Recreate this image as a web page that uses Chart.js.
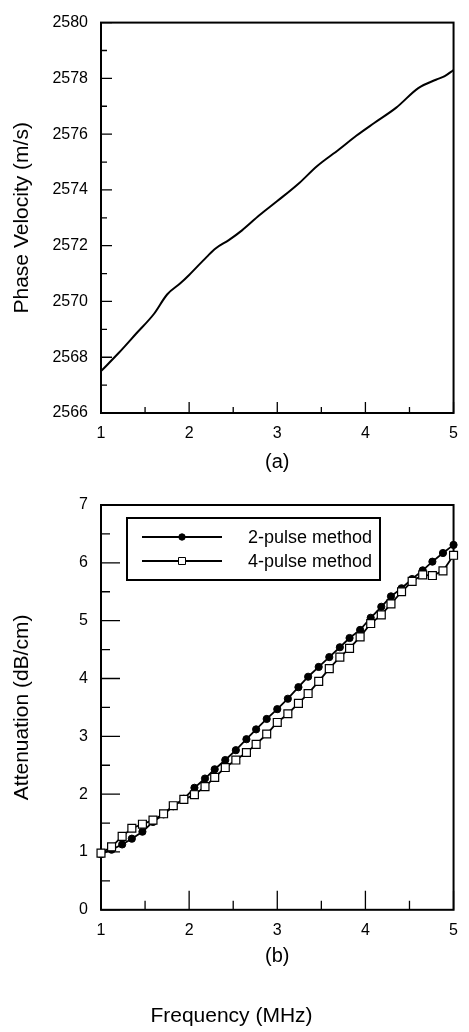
<!DOCTYPE html>
<html><head><meta charset="utf-8">
<script src="https://cdn.jsdelivr.net/npm/chart.js@4/dist/chart.umd.min.js"></script>
<style>
html,body{margin:0;padding:0;background:#fff;width:469px;height:1032px;overflow:hidden;}
#wa{position:absolute;left:0;top:0;width:469px;height:480px;}
#wb{position:absolute;left:0;top:480px;width:469px;height:552px;}
</style></head><body>
<div id="wa"><canvas id="ca"></canvas></div>
<div id="wb"><canvas id="cb"></canvas></div>
<script>
// ---- data (a): phase velocity ----
const freqA = [1.00, 1.20, 1.40, 1.60, 1.75, 1.90, 2.00, 2.20, 2.30, 2.45, 2.60, 2.80, 3.00, 3.25, 3.45, 3.70, 3.90, 4.10, 4.35, 4.60, 4.80, 4.90, 5.00];
const velocity = [2567.5, 2568.15, 2568.85, 2569.55, 2570.25, 2570.65, 2570.95, 2571.6, 2571.9, 2572.2, 2572.55, 2573.1, 2573.6, 2574.25, 2574.85, 2575.45, 2575.95, 2576.4, 2576.95, 2577.65, 2577.95, 2578.08, 2578.3];
// ---- data (b): attenuation ----
const freqB = [1.00,1.12,1.24,1.35,1.47,1.59,1.71,1.82,1.94,2.06,2.18,2.29,2.41,2.53,2.65,2.76,2.88,3.00,3.12,3.24,3.35,3.47,3.59,3.71,3.82,3.94,4.06,4.18,4.29,4.41,4.53,4.65,4.76,4.88,5.00];
const atten2 = [0.96,1.04,1.13,1.23,1.35,1.52,1.65,1.79,1.92,2.11,2.27,2.43,2.59,2.76,2.95,3.12,3.30,3.47,3.65,3.85,4.03,4.20,4.37,4.54,4.70,4.84,5.05,5.24,5.42,5.56,5.72,5.87,6.02,6.17,6.31];
const atten4 = [0.98,1.09,1.27,1.41,1.48,1.55,1.66,1.80,1.91,1.99,2.13,2.29,2.46,2.59,2.72,2.86,3.04,3.24,3.39,3.57,3.74,3.95,4.17,4.37,4.52,4.72,4.95,5.10,5.29,5.50,5.68,5.79,5.78,5.86,6.13];
const seriesNames = ['2-pulse method', '4-pulse method'];
// ---- axis settings ----
const xRange = [1, 5];
const velRange = [2566, 2580];
const attRange = [0, 7];
const xTitleA = '(a)';
const xTitleB = '(b)';
const yTitleA = 'Phase Velocity (m/s)';
const yTitleB = 'Attenuation (dB/cm)';
const bottomTitle = 'Frequency (MHz)';

const FONT = "'Liberation Sans', Arial, Helvetica, sans-serif";
Chart.defaults.font.family = FONT;
Chart.defaults.color = '#000';

const pts = (xs, ys) => xs.map((x, i) => ({x: x, y: ys[i]}));

// inward tick marks + frame
const frameTicks = {
  id: 'frameTicks',
  beforeDatasetsDraw(chart, args, o) {
    const {ctx, chartArea: a, scales} = chart;
    ctx.save();
    ctx.strokeStyle = '#000';
    ctx.lineWidth = 1.3;
    ctx.beginPath();
    const xs = scales.x, ys = scales.y;
    const xv = xs.ticks.map(t => t.value);
    const xstep = xv[1] - xv[0];
    xv.forEach(v => {
      const p = xs.getPixelForValue(v);
      ctx.moveTo(p, a.bottom); ctx.lineTo(p, a.bottom - o.major);
      if (v + xstep / 2 < xs.max) {
        const q = xs.getPixelForValue(v + xstep / 2);
        ctx.moveTo(q, a.bottom); ctx.lineTo(q, a.bottom - o.minor);
      }
    });
    const yv = ys.ticks.map(t => t.value);
    const ystep = yv[1] - yv[0];
    yv.forEach(v => {
      const p = ys.getPixelForValue(v);
      ctx.moveTo(a.left, p); ctx.lineTo(a.left + o.major, p);
      if (v + ystep / 2 < ys.max) {
        const q = ys.getPixelForValue(v + ystep / 2);
        ctx.moveTo(a.left, q); ctx.lineTo(a.left + o.minor, q);
      }
    });
    ctx.stroke();
    ctx.lineWidth = 2;
    ctx.strokeRect(a.left, a.top, a.right - a.left, a.bottom - a.top);
    ctx.restore();
  }
};

// boxed legend inside plot
const boxLegend = {
  id: 'boxLegend',
  afterDraw(chart, args, o) {
    if (!o.show) return;
    const {ctx, chartArea: a} = chart;
    const x0 = a.left + o.dx, y0 = a.top + o.dy;
    ctx.save();
    ctx.fillStyle = '#fff';
    ctx.fillRect(x0, y0, o.w, o.h);
    ctx.strokeStyle = '#000';
    ctx.lineWidth = 2;
    ctx.strokeRect(x0, y0, o.w, o.h);
    chart.data.datasets.forEach((ds, i) => {
      const cy = y0 + o.row0 + i * o.gap;
      ctx.lineWidth = ds.borderWidth;
      ctx.strokeStyle = ds.borderColor;
      ctx.beginPath();
      ctx.moveTo(x0 + 15, cy); ctx.lineTo(x0 + 95, cy);
      ctx.stroke();
      const mx = x0 + 55;
      ctx.lineWidth = 1;
      ctx.fillStyle = ds.pointBackgroundColor;
      ctx.beginPath();
      if (ds.pointStyle === 'rect') {
        ctx.rect(mx - 3.5, cy - 3.5, 7, 7);
      } else {
        ctx.arc(mx, cy, 3.2, 0, Math.PI * 2);
      }
      ctx.fill(); ctx.stroke();
      ctx.fillStyle = '#000';
      ctx.font = '18px ' + FONT;
      ctx.textBaseline = 'middle';
      ctx.textAlign = 'left';
      ctx.fillText(ds.label, x0 + 121, cy + 1);
    });
    ctx.restore();
  }
};

function scalesFor(yr, ytitle, xtitle, xh, xpb) {
  return {
    x: {
      type: 'linear', min: xRange[0], max: xRange[1],
      grid: {display: false, drawTicks: false}, border: {display: false},
      ticks: {stepSize: 1, padding: 11, font: {size: 16}, color: '#000', format: {useGrouping: false}},
      title: {display: true, text: xtitle, font: {size: 20}, color: '#000', padding: {top: 0, bottom: xpb}},
      afterFit: s => { s.height = xh; }
    },
    y: {
      type: 'linear', min: yr[0], max: yr[1],
      grid: {display: false, drawTicks: false}, border: {display: false},
      ticks: {stepSize: yr[1] - yr[0] > 10 ? 2 : 1, padding: 13, font: {size: 16}, color: '#000', format: {useGrouping: false}},
      title: {display: true, text: ytitle, font: {size: 21}, color: '#000', padding: {top: 10, bottom: 0}},
      afterFit: s => { s.width = 101; }
    }
  };
}

new Chart(document.getElementById('ca'), {
  type: 'line',
  data: {datasets: [{
    label: 'Phase velocity',
    data: pts(freqA, velocity),
    borderColor: '#000', borderWidth: 2, pointRadius: 0,
    cubicInterpolationMode: 'monotone', fill: false
  }]},
  options: {
    responsive: true, maintainAspectRatio: false, animation: false, devicePixelRatio: 1,
    layout: {padding: {top: 8, right: 6, left: 0, bottom: 0}},
    plugins: {legend: {display: false}, tooltip: {enabled: false},
      frameTicks: {major: 11, minor: 6}, boxLegend: {show: false}},
    scales: scalesFor(velRange, yTitleA, xTitleA, 67, 6)
  },
  plugins: [frameTicks, boxLegend]
});

new Chart(document.getElementById('cb'), {
  type: 'line',
  data: {datasets: [
    {label: seriesNames[0], data: pts(freqB, atten2), borderColor: '#000', borderWidth: 1.8,
     pointStyle: 'circle', pointRadius: 3.6, pointBackgroundColor: '#000', pointBorderColor: '#000',
     pointBorderWidth: 1, tension: 0, fill: false, order: 1, clip: false},
    {label: seriesNames[1], data: pts(freqB, atten4), borderColor: '#000', borderWidth: 1.8,
     pointStyle: 'rect', pointRadius: 5.6, pointBackgroundColor: '#fff', pointBorderColor: '#000',
     pointBorderWidth: 1.2, tension: 0, fill: false, order: 0, clip: false}
  ]},
  options: {
    responsive: true, maintainAspectRatio: false, animation: false, devicePixelRatio: 1,
    layout: {padding: {top: 25, right: 6, left: 0, bottom: 0}},
    plugins: {
      legend: {display: false}, tooltip: {enabled: false},
      title: {display: true, position: 'bottom', text: bottomTitle, color: '#000',
        font: {size: 21, weight: 'normal'}, padding: {top: 0, bottom: 3}},
      frameTicks: {major: 19, minor: 9},
      boxLegend: {show: true, dx: 26, dy: 13, w: 253, h: 62, row0: 19, gap: 24}
    },
    scales: scalesFor(attRange, yTitleB, xTitleB, 94, 35)
  },
  plugins: [frameTicks, boxLegend]
});
</script>
</body></html>
